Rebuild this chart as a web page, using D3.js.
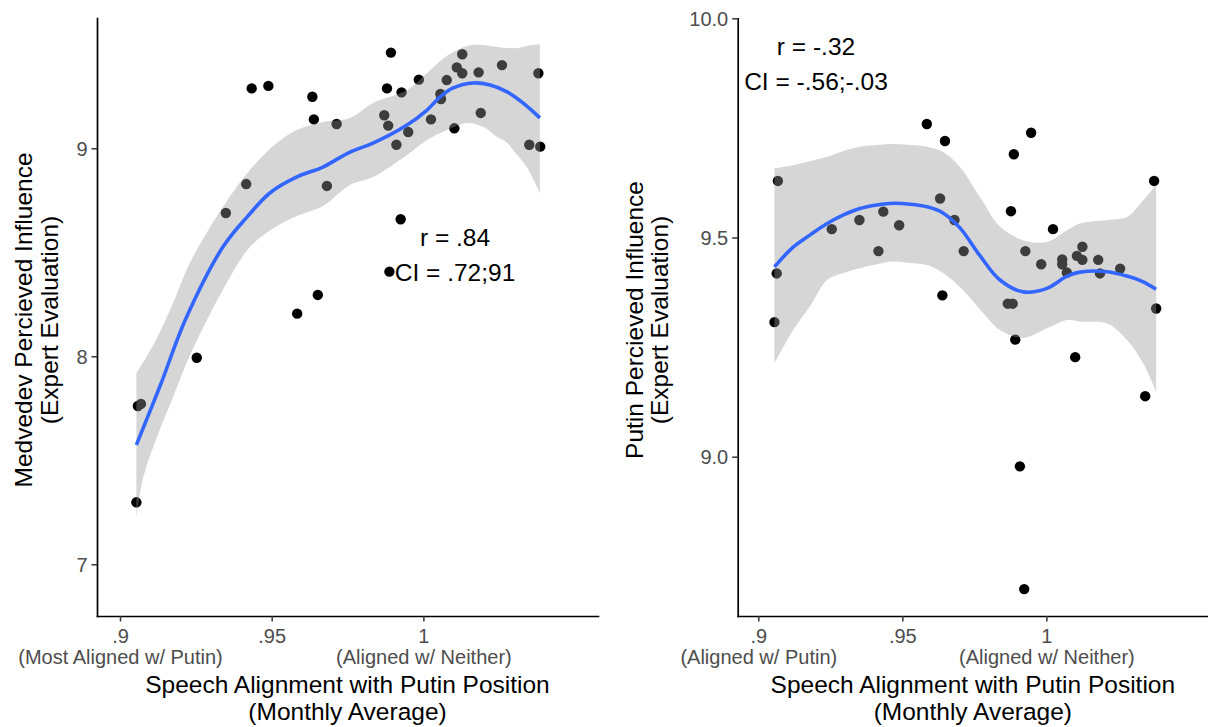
<!DOCTYPE html>
<html><head><meta charset="utf-8">
<script src="https://cdn.jsdelivr.net/npm/d3@7"></script>
<style>
body{margin:0;background:#fff}
text{font-family:"Liberation Sans", Arial, sans-serif}
</style>
</head><body>
<svg id="chart" width="1208" height="727"></svg>
<script>
// ---------- data ----------
const xTicks = [0.9, 0.95, 1];
const xTickLabels = [".9", ".95", "1"];
const medSubLabels = ["(Most Aligned w/ Putin)", "", "(Aligned w/ Neither)"];
const putSubLabels = ["(Aligned w/ Putin)", "", "(Aligned w/ Neither)"];
const medYTicks = [7, 8, 9];
const medYTickLabels = ["7", "8", "9"];
const putYTicks = [9.0, 9.5, 10.0];
const putYTickLabels = ["9.0", "9.5", "10.0"];

const xTitle = ["Speech Alignment with Putin Position", "(Monthly Average)"];
const medYTitle = ["Medvedev Percieved Influence", "(Expert Evaluation)"];
const putYTitle = ["Putin Percieved Influence", "(Expert Evaluation)"];
const medNote = ["r = .84", "CI = .72;91"];
const putNote = ["r = -.32", "CI = -.56;-.03"];

// Medvedev panel points
const medX = [0.9434,0.9489,0.9634,0.9639,0.9714,0.9416,0.9349,0.9682,0.9652,0.9584,
  0.9893,0.9880,0.9928,0.9985,0.9871,0.9884,0.9950,0.9911,1.0025,1.0056,
  1.0058,1.0077,1.0110,1.0128,1.0128,1.0182,1.0259,1.0379,1.0102,1.0189,
  1.0349,1.0385,0.9925,0.9888,0.9253,0.9059,0.9069,0.9054];
const medY = [9.288,9.300,9.248,9.139,9.117,8.828,8.689,8.819,8.295,8.205,
  9.460,9.288,9.269,9.330,9.159,9.109,9.078,9.017,9.139,9.261,
  9.237,9.328,9.389,9.452,9.361,9.365,9.400,9.361,9.096,9.170,
  9.017,9.008,8.659,8.407,7.993,7.761,7.771,7.298];

// Medvedev loess fit
const medSmoothX = [0.9054,0.9132,0.9218,0.9339,0.9419,0.9494,0.9583,0.9669,0.9758,0.9834,
  0.9946,1.0012,1.0055,1.0098,1.0164,1.0220,1.0276,1.0328,1.0384];
const medSmoothY = [7.574,7.857,8.184,8.525,8.670,8.785,8.862,8.910,8.982,9.025,
  9.112,9.184,9.247,9.290,9.314,9.304,9.271,9.218,9.146];
const medBandX = [0.9054,0.9077,0.9122,0.9175,0.9231,0.9339,0.9428,0.9517,0.9583,0.9669,0.9758,
  0.9834,0.9946,1.0012,1.0078,1.0144,1.0197,1.0243,1.0276,1.0309,1.0341,1.0384];
const medUpper = [7.920,7.973,8.088,8.256,8.451,8.718,8.896,9.025,9.088,9.127,9.146,
  9.218,9.280,9.362,9.445,9.492,9.497,9.487,9.482,9.482,9.492,9.501];
const medLower = [7.227,7.421,7.612,7.804,8.006,8.319,8.525,8.626,8.675,8.723,8.824,
  8.862,8.968,9.040,9.088,9.122,9.103,9.054,9.026,8.968,8.910,8.785];

// Putin panel points
const putX = [0.9068,0.9585,0.9648,0.9255,0.9351,0.9434,0.9489,0.9417,0.9631,0.9064,
  0.9639,0.9056,0.9947,0.9887,1.0374,0.9681,0.9877,1.0023,0.9713,0.9927,
  0.9982,1.0055,1.0055,1.0071,1.0106,1.0125,1.0125,1.0180,1.0186,1.0256,
  0.9866,0.9883,0.9892,1.0100,1.0343,1.0381,0.9908,0.9923];
const putY = [9.629,9.759,9.720,9.519,9.540,9.559,9.528,9.469,9.589,9.418,
  9.368,9.307,9.739,9.690,9.629,9.540,9.560,9.519,9.469,9.469,
  9.439,9.450,9.439,9.420,9.458,9.479,9.449,9.449,9.418,9.429,
  9.349,9.349,9.267,9.227,9.138,9.338,8.978,8.698];

// Putin loess fit
const putGridX = [0.9056,0.9121,0.9180,0.9239,0.9294,0.9353,0.9412,0.9468,0.9527,0.9586,0.9641,
  0.9700,0.9770,0.9839,0.9919,1.0002,1.0072,1.0117,1.0211,1.0280,1.0336,1.0381];
const putSmooth = [9.433,9.478,9.506,9.532,9.551,9.566,9.574,9.578,9.576,9.570,9.556,
  9.522,9.458,9.403,9.376,9.384,9.412,9.421,9.422,9.412,9.399,9.382];
const putUpper = [9.658,9.665,9.674,9.684,9.697,9.707,9.711,9.713,9.711,9.707,9.695,
  9.661,9.592,9.525,9.494,9.490,9.517,9.532,9.540,9.547,9.585,9.620];
const putLower = [9.213,9.289,9.344,9.403,9.419,9.430,9.439,9.445,9.442,9.437,9.419,
  9.387,9.336,9.289,9.271,9.293,9.312,9.308,9.304,9.266,9.213,9.148];

// ---------- drawing ----------
const svg = d3.select("#chart");
svg.append("rect").attr("width",1208).attr("height",727).attr("fill","#fff");
const FONT = '"Liberation Sans", Arial, sans-serif';

function panel(cfg){
  const x = d3.scaleLinear().domain(cfg.xDomain).range(cfg.xRange);
  const y = d3.scaleLinear().domain(cfg.yDomain).range(cfg.yRange);
  const g = svg.append("g");
  const curve = d3.curveCatmullRom.alpha(0.5);

  // points
  g.append("g").selectAll("circle").data(cfg.px.map((v,i)=>[v,cfg.py[i]])).join("circle")
    .attr("cx",d=>x(d[0])).attr("cy",d=>y(d[1])).attr("r",5.2).attr("fill","#000");

  // ribbon
  const band = cfg.bx.map((v,i)=>({x:v,lo:cfg.lo[i],hi:cfg.hi[i]}));
  g.append("path").datum(band)
    .attr("d", d3.area().x(d=>x(d.x)).y0(d=>y(d.lo)).y1(d=>y(d.hi)).curve(curve))
    .attr("fill","#999999").attr("fill-opacity",0.4);

  // smooth line
  const sm = cfg.sx.map((v,i)=>({x:v,y:cfg.sy[i]}));
  g.append("path").datum(sm)
    .attr("d", d3.line().x(d=>x(d.x)).y(d=>y(d.y)).curve(curve))
    .attr("fill","none").attr("stroke","#3366FF").attr("stroke-width",3.6);

  // x axis
  const xa = g.append("g").attr("transform",`translate(0,${cfg.yRange[0]})`)
    .call(d3.axisBottom(x).tickValues(xTicks).tickFormat((d,i)=>xTickLabels[i])
      .tickSize(5.5).tickSizeOuter(0));
  xa.selectAll(".tick text").attr("y",27).attr("dy",null)
    .attr("font-size","20px").attr("fill","#4D4D4D").style("font-family",FONT);
  xa.selectAll(".tick").append("text").text((d,i)=>cfg.sub[i])
    .attr("y",48).attr("text-anchor","middle")
    .attr("font-size","20px").attr("fill","#4D4D4D").style("font-family",FONT);

  // y axis
  const ya = g.append("g").attr("transform",`translate(${cfg.xRange[0]},0)`)
    .call(d3.axisLeft(y).tickValues(cfg.yTicks).tickFormat((d,i)=>cfg.yTickLabels[i])
      .tickSize(5.5).tickPadding(4).tickSizeOuter(0));
  ya.selectAll(".tick text").attr("dy","0.35em")
    .attr("font-size","20px").attr("fill","#4D4D4D").style("font-family",FONT);

  [xa, ya].forEach(a=>{
    a.select(".domain").attr("stroke","#000").attr("stroke-width",1.7).attr("stroke-linecap","square");
    a.selectAll(".tick line").attr("stroke","#333").attr("stroke-width",1.5);
  });

  // x title
  const cx = (cfg.xRange[0]+cfg.xRange[1])/2;
  xTitle.forEach((t,i)=>{
    g.append("text").attr("x",cx).attr("y",693+i*27).attr("text-anchor","middle")
      .attr("font-size","24.5px").attr("fill","#000").text(t);
  });
  // y title
  cfg.yTitle.forEach((t,i)=>{
    g.append("text").attr("transform",`translate(${cfg.yTitleX[i]},320) rotate(-90)`)
      .attr("text-anchor","middle").attr("font-size","24.5px").attr("fill","#000").text(t);
  });
  // annotation
  cfg.note.forEach((t,i)=>{
    g.append("text").attr("x",cfg.noteX).attr("y",cfg.noteY[i]).attr("text-anchor","middle")
      .attr("font-size","24.5px").attr("fill","#000").text(t);
  });
}

panel({
  xDomain:[0.89242,1.05755], xRange:[97,598],
  yDomain:[6.7514,9.6264], yRange:[616,18],
  px:medX, py:medY, sx:medSmoothX, sy:medSmoothY, bx:medBandX, hi:medUpper, lo:medLower,
  sub:medSubLabels, yTicks:medYTicks, yTickLabels:medYTickLabels,
  yTitle:medYTitle, yTitleX:[32,58], note:medNote, noteX:455, noteY:[245.5,280.5]
});
panel({
  xDomain:[0.89285,1.0561], xRange:[737.7,1208],
  yDomain:[8.6366,10.0], yRange:[616,18.3],
  px:putX, py:putY, sx:putGridX, sy:putSmooth, bx:putGridX, hi:putUpper, lo:putLower,
  sub:putSubLabels, yTicks:putYTicks, yTickLabels:putYTickLabels,
  yTitle:putYTitle, yTitleX:[643,668], note:putNote, noteX:816, noteY:[54.5,89.7]
});
</script>
</body></html>
